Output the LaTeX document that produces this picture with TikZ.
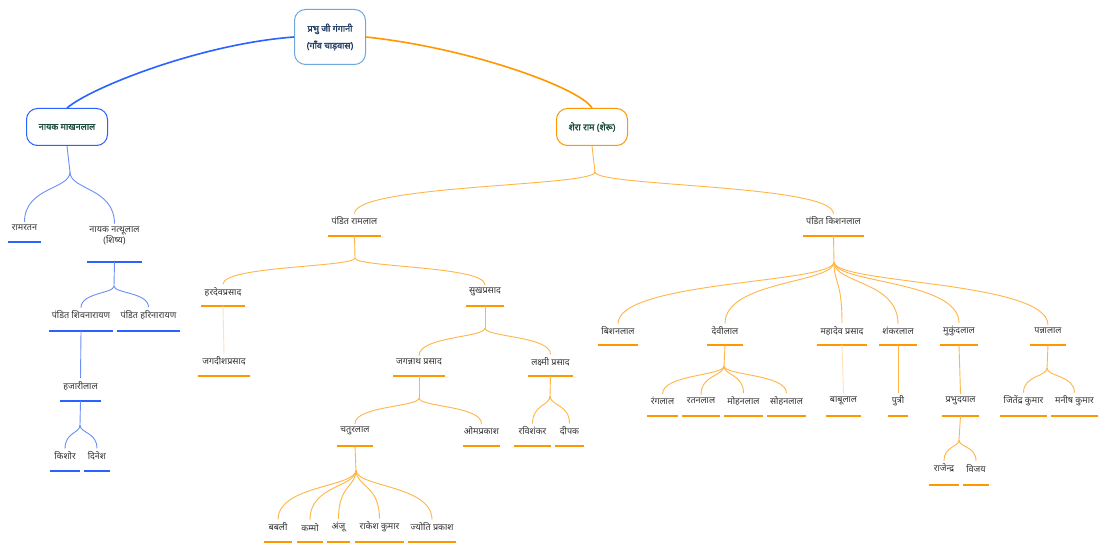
\documentclass[tikz,border=0pt]{standalone}
\usepackage{fontspec}
\newfontfamily\dev[Script=Devanagari]{Noto Sans}
\newfontfamily\devb[Script=Devanagari,FakeBold=1.6]{Noto Sans}
\usetikzlibrary{calc}
\definecolor{oraU}{HTML}{FF9800}
\definecolor{oraC}{HTML}{FFB547}
\definecolor{oraF}{HTML}{FFE2B8}
\definecolor{bluU}{HTML}{2962FF}
\definecolor{bluC}{HTML}{6C8FF5}
\definecolor{rootB}{HTML}{6FA8DC}
\definecolor{txt}{HTML}{333333}
\definecolor{tgreen}{HTML}{1E4D3A}
\definecolor{tnavy}{HTML}{1F3A5F}
\tikzset{
  lbl/.style={font=\dev\fontsize{9}{11}\selectfont, text=txt, inner sep=3pt, align=center},
  oul/.style={draw=oraU, line width=2pt},
  bul/.style={draw=bluU, line width=2pt},
  oc/.style={draw=oraC, line width=0.9pt},
  ocf/.style={draw=oraF, line width=0.9pt},
  bc/.style={draw=bluC, line width=0.9pt},
  topbox/.style={rounded corners=11pt, fill=white, line width=1pt, font=\devb\fontsize{9}{17}\selectfont, align=center},
}
\newcommand\pn[7]{%
  \path (#3,#5) -- (#4,#5) node[midway,lbl] (#1) {#7};
  \draw[#2] (#3,#6) -- (#4,#6);
  \coordinate (#1-b) at ($(#3,#6)!0.5!(#4,#6)$);}
\newcommand\br[3]{\draw[#3] let \p1=(#1), \p2=(#2) in (\p1) .. controls (\x1,{\y1+0.35*(\y2-\y1)}) and (\x2,{\y1+0.3*(\y2-\y1)}) .. (\p2);}
\begin{document}
\begin{tikzpicture}[x=1pt,y=-1pt]
\useasboundingbox[fill=white] (0,0) rectangle (1104,548);
% top boxes
\node[topbox, draw=rootB, text=tnavy, minimum width=71pt, minimum height=55pt] (root) at (330,37) {प्रभु जी गंगानी\\(गाँव चाड़वास)};
\node[topbox, draw=bluU, text=tgreen, minimum width=81pt, minimum height=37pt] (lb) at (67,127) {नायक माखनलाल};
\node[topbox, draw=oraU, text=tgreen, minimum width=71pt, minimum height=37pt] (sr) at (592,127) {शेरा राम (शेरू)};
\draw[draw=bluU, line width=1.6pt] (root.west) .. controls (200,44) and (90,88) .. (lb.north);
\draw[draw=oraU, line width=1.6pt] (root.east) .. controls (470,48) and (580,88) .. (sr.north);

% left subtree
\pn{rr}{bul}{8}{41}{228}{242}{रामरतन}
\pn{nn}{bul}{87}{142}{236}{262}{नायक नत्थूलाल\\(शिष्य)}
\pn{sn}{bul}{49}{113}{315}{331}{पंडित शिवनारायण}
\pn{hn}{bul}{117}{180}{315}{331}{पंडित हरिनारायण}
\pn{hz}{bul}{60}{101}{386}{401}{हजारीलाल}
\pn{ks}{bul}{50}{80}{456}{471}{किशोर}
\pn{dn}{bul}{84}{110}{456}{471}{दिनेश}
\coordinate (lj1) at (70,172);
\coordinate (lj2) at (114,286);
\coordinate (lj3) at (80,425);
\draw[bc] (lb.south) -- (lj1);
\br{lj1}{rr.north}{bc}
\br{lj1}{nn.north}{bc}
\draw[bc] (nn-b) -- (lj2);
\br{lj2}{sn.north}{bc}
\br{lj2}{hn.north}{bc}
\draw[bc] (sn-b) -- (hz.north);
\draw[bc] (hz-b) -- (lj3);
\br{lj3}{ks.north}{bc}
\br{lj3}{dn.north}{bc}

% right subtree
\pn{rl}{oul}{328}{381}{221}{236}{पंडित रामलाल}
\pn{kl}{oul}{803}{864}{221}{236}{पंडित किशनलाल}
\pn{hd}{oul}{201}{245}{292}{306}{हरदेवप्रसाद}
\pn{sp}{oul}{466}{504}{292}{306}{सुखप्रसाद}
\pn{jd}{oul}{198}{250}{361}{376}{जगदीशप्रसाद}
\pn{jn}{oul}{393}{445}{362}{376}{जगन्नाथ प्रसाद}
\pn{lp}{oul}{528}{573}{362}{376}{लक्ष्मी प्रसाद}
\pn{cl}{oul}{337}{373}{431}{446}{चतुरलाल}
\pn{op}{oul}{463}{500}{431}{446}{ओमप्रकाश}
\pn{rs}{oul}{514}{551}{431}{446}{रविशंकर}
\pn{dp}{oul}{555}{584}{431}{446}{दीपक}
\pn{bb}{oul}{264}{292}{527}{542}{बबली}
\pn{km}{oul}{297}{323}{527}{542}{कम्मो}
\pn{an}{oul}{327}{350}{527}{542}{अंजू}
\pn{rk}{oul}{355}{404}{527}{542}{राकेश कुमार}
\pn{jp}{oul}{408}{456}{527}{542}{ज्योति प्रकाश}
\pn{bl}{oul}{598}{638}{331}{345}{बिशनलाल}
\pn{dl}{oul}{707}{743}{331}{345}{देवीलाल}
\pn{mp}{oul}{817}{867}{331}{345}{महादेव प्रसाद}
\pn{sl}{oul}{879}{917}{331}{345}{शंकरलाल}
\pn{ml}{oul}{940}{978}{331}{345}{मुकुंदलाल}
\pn{pl}{oul}{1030}{1066}{331}{345}{पन्नालाल}
\pn{rg}{oul}{647}{678}{401}{416}{रंगलाल}
\pn{rt}{oul}{682}{720}{401}{416}{रतनलाल}
\pn{mh}{oul}{724}{763}{401}{416}{मोहनलाल}
\pn{sh}{oul}{767}{806}{401}{416}{सोहनलाल}
\pn{bu}{oul}{826}{861}{401}{416}{बाबूलाल}
\pn{pt}{oul}{888}{908}{401}{416}{पुत्री}
\pn{pd}{oul}{942}{979}{401}{416}{प्रभुदयाल}
\pn{rj}{oul}{929}{959}{468}{485}{राजेन्द्र}
\pn{vj}{oul}{963}{989}{468}{485}{विजय}
\pn{jt}{oul}{1000}{1047}{401}{416}{जितेंद्र कुमार}
\pn{mn}{oul}{1051}{1098}{401}{416}{मनीष कुमार}

\coordinate (rj0) at (595,172);
\coordinate (rj1) at (355,258);
\coordinate (rj2) at (485,328);
\coordinate (rj3) at (419,398);
\coordinate (rj4) at (356,470);
\coordinate (rj5) at (550,396);
\coordinate (kj) at (834,262);
\coordinate (dj) at (724,366);
\coordinate (pj) at (1047,368);
\coordinate (prj) at (959,440);

\draw[oc] (sr.south) -- (rj0);
\br{rj0}{rl.north}{oc}
\br{rj0}{kl.north}{oc}
\draw[oc] (rl-b) -- (rj1);
\br{rj1}{hd.north}{oc}
\br{rj1}{sp.north}{oc}
\draw[ocf] (hd-b) -- (jd.north);
\draw[oc] (sp-b) -- (rj2);
\br{rj2}{jn.north}{oc}
\br{rj2}{lp.north}{oc}
\draw[oc] (jn-b) -- (rj3);
\br{rj3}{cl.north}{oc}
\br{rj3}{op.north}{oc}
\draw[oc] (cl-b) -- (rj4);
\foreach \c in {bb,km,an,rk,jp}{\br{rj4}{\c.north}{oc}}
\draw[oc] (lp-b) -- (rj5);
\br{rj5}{rs.north}{oc}
\br{rj5}{dp.north}{oc}
\draw[oc] (kl-b) -- (kj);
\foreach \c in {bl,dl,mp,sl,ml,pl}{\br{kj}{\c.north}{oc}}
\draw[oc] (dl-b) -- (dj);
\foreach \c in {rg,rt,mh,sh}{\br{dj}{\c.north}{oc}}
\draw[ocf] (mp-b) -- (bu.north);
\draw[oc] (sl-b) -- (pt.north);
\draw[oc] (ml-b) -- (pd.north);
\draw[oc] (pd-b) -- (prj);
\br{prj}{rj.north}{oc}
\br{prj}{vj.north}{oc}
\draw[oc] (pl-b) -- (pj);
\br{pj}{jt.north}{oc}
\br{pj}{mn.north}{oc}
\end{tikzpicture}
\end{document}
